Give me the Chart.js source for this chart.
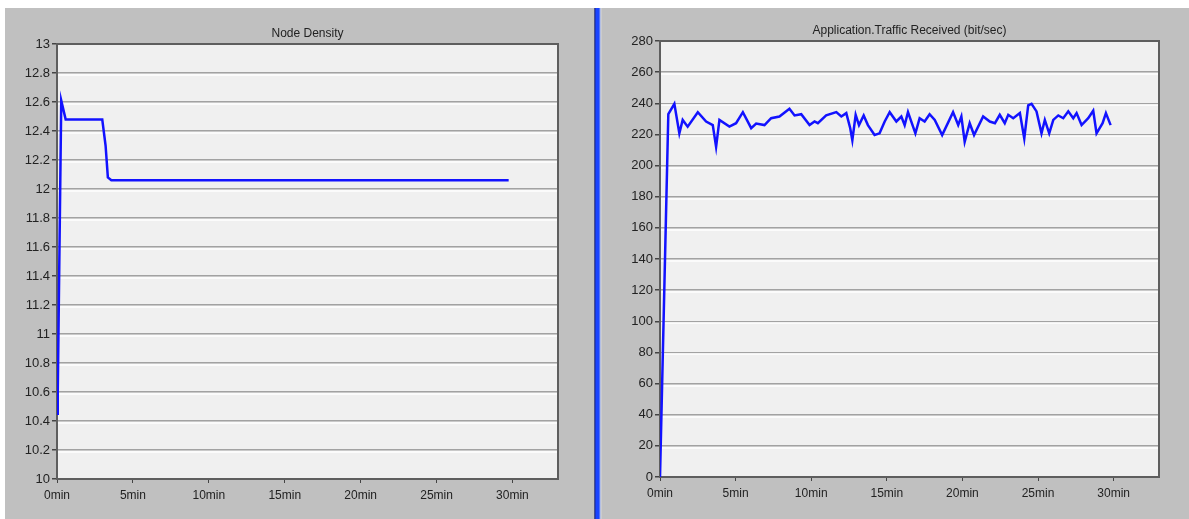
<!DOCTYPE html>
<html lang="en">
<head>
    <meta charset="UTF-8">
    <title>Node Density / Application Traffic Received</title>
    <script src="https://cdn.jsdelivr.net/npm/chart.js"></script>
    <style>
        body { margin: 0; background: #fff; width: 1189px; height: 519px; position: relative; overflow: hidden; }
        .panel { position: absolute; top: 8px; height: 511px; background: #c0c0c0; }
        #leftPanel { left: 5px; width: 589px; }
        #rightPanel { left: 602px; width: 587px; }
        #sep { position: absolute; top: 8px; left: 594px; width: 8px; height: 511px;
               background: linear-gradient(to right, #7a7a8a 0, #1c2a8c 1px, #1a44ff 2px, #1a44ff 5px, #8fa6f0 6px, #d8d8d8 7px, #c0c0c0 8px); }
        canvas { position: absolute; top: 0; left: 0; }
    </style>
</head>
<body>
    <div id="leftPanel" class="panel"><canvas id="densityChart" width="589" height="511"></canvas></div>
    <div id="sep"></div>
    <div id="rightPanel" class="panel"><canvas id="trafficChart" width="587" height="511"></canvas></div>

    <script>
        // Node Density (left)
        const densityTimes  = [0, 0.05, 0.28, 0.57, 2.98, 3.2, 3.35, 3.58, 29.75];
        const densityValues = [10.45, 10.6, 12.61, 12.48, 12.48, 12.3, 12.08, 12.06, 12.06];

        // Application.Traffic Received (right), bit/sec
        const trafficTimes = [
            0, 0.55, 0.95, 1.28, 1.5, 1.83, 2.5, 3.05, 3.49, 3.71, 3.93, 4.59, 5.03, 5.48, 6.03, 6.36, 6.91, 7.35, 7.9,
            8.56, 8.9, 9.34, 9.89, 10.22, 10.44, 10.99, 11.66, 11.99, 12.32, 12.58, 12.72, 12.94, 13.16, 13.47, 13.75,
            14.19, 14.52, 14.86, 15.19, 15.63, 15.96, 16.18, 16.4, 16.89, 17.17, 17.5, 17.83, 18.17, 18.66, 19.38,
            19.72, 19.93, 20.15, 20.48, 20.77, 21.37, 21.81, 22.15, 22.47, 22.8, 23.03, 23.36, 23.8, 24.09, 24.35,
            24.57, 24.9, 25.23, 25.45, 25.74, 26.01, 26.34, 26.67, 27.0, 27.33, 27.55, 27.88, 28.32, 28.65, 28.87,
            29.27, 29.49, 29.8
        ];
        const trafficValues = [
            0, 233, 239.6, 220.7, 229.3, 225, 234.3, 228.3, 226, 212, 229.3, 225, 227.2, 234.3, 224, 227, 226, 230.4, 231.5,
            236.5, 232.2, 233, 226, 228.3, 227.2, 232.2, 234.3, 231.5, 233.7, 224, 216.3, 232.6, 226, 232.2, 226,
            219.6, 220.7, 228.3, 234.3, 228.3, 231.5, 226, 234.3, 220.7, 230.4, 228.3, 233, 229.3, 219.6, 234.3,
            226, 231.5, 215.2, 227.2, 219.6, 231.5, 228.3, 227.2, 232.6, 227.2, 232.6, 230.4, 233.7, 217.4, 238.7,
            239.6, 234.8, 220.7, 229.3, 220.7, 229.3, 232.2, 230.4, 234.8, 230.4, 233.7, 226, 230.4, 235.2, 220.7,
            227.2, 233.7, 226
        ];

        const xTickStep = 5;
        const xMax = 33;

        const FONT = "'Liberation Sans', Arial, sans-serif";

        // plot background, 3D grid lines, frame and title
        const framePlugin = {
            id: 'frame',
            beforeDraw(chart) {
                const { ctx, chartArea: a } = chart;
                ctx.save();
                ctx.fillStyle = '#f0f0f0';
                ctx.fillRect(a.left, a.top, a.right - a.left, a.bottom - a.top);
                ctx.restore();
            },
            beforeDatasetsDraw(chart) {
                const { ctx, chartArea: a } = chart;
                const y = chart.scales.y;
                ctx.save();
                ctx.strokeStyle = '#ffffff';
                ctx.lineWidth = 1.5;
                y.ticks.forEach((t, i) => {
                    const py = Math.round(y.getPixelForTick(i)) + 2;
                    if (py > a.top + 2 && py < a.bottom - 2) {
                        ctx.beginPath();
                        ctx.moveTo(a.left + 1, py);
                        ctx.lineTo(a.right - 1, py);
                        ctx.stroke();
                    }
                });
                ctx.strokeStyle = '#5e5e5e';
                ctx.lineWidth = 2;
                ctx.strokeRect(a.left, a.top, a.right - a.left, a.bottom - a.top);
                ctx.fillStyle = '#222';
                ctx.font = '12px ' + FONT;
                ctx.textAlign = 'center';
                ctx.textBaseline = 'bottom';
                ctx.fillText(chart.options.plugins.frame.text, (a.left + a.right) / 2, a.top - 4);
                ctx.restore();
            }
        };

        function makeChart(id, times, values, yMin, yMax, yStep, fmt, sizes) {
            const points = times.map((t, i) => ({ x: t, y: values[i] }));
            return new Chart(document.getElementById(id).getContext('2d'), {
                type: 'line',
                data: {
                    datasets: [{
                        data: points,
                        borderColor: '#1212ff',
                        borderWidth: 2.5,
                        pointRadius: 0,
                        tension: 0,
                        fill: false
                    }]
                },
                options: {
                    responsive: false,
                    animation: false,
                    devicePixelRatio: 1,
                    layout: { padding: { top: sizes.top, right: sizes.right, left: 0, bottom: 0 } },
                    plugins: {
                        legend: { display: false },
                        tooltip: { enabled: false },
                        frame: { text: sizes.title }
                    },
                    scales: {
                        x: {
                            type: 'linear',
                            min: 0,
                            max: xMax,
                            afterBuildTicks: s => { s.ticks = s.ticks.filter(t => t.value % xTickStep === 0); },
                            afterFit: s => { s.height = sizes.xh; },
                            ticks: {
                                stepSize: xTickStep,
                                color: '#222',
                                font: { family: FONT, size: 12 },
                                padding: 5,
                                maxRotation: 0,
                                callback: v => v + 'min'
                            },
                            grid: { drawOnChartArea: false, drawTicks: true, tickLength: 4, tickColor: '#444' },
                            border: { display: true, color: '#5e5e5e', width: 2 }
                        },
                        y: {
                            min: yMin,
                            max: yMax,
                            afterFit: s => { s.width = sizes.yw; },
                            ticks: {
                                stepSize: yStep,
                                color: '#222',
                                font: { family: FONT, size: 13 },
                                padding: 2,
                                callback: fmt
                            },
                            grid: { color: '#a2a2a2', lineWidth: 1.5, tickLength: 5, tickColor: '#444' },
                            border: { display: true, color: '#5e5e5e', width: 2 }
                        }
                    }
                },
                plugins: [framePlugin]
            });
        }

        makeChart('densityChart', densityTimes, densityValues, 10, 13, 0.2,
            v => String(parseFloat(v.toFixed(1))),
            { top: 36, right: 36, yw: 52, xh: 40, title: 'Node Density' });

        makeChart('trafficChart', trafficTimes, trafficValues, 0, 280, 20,
            v => String(v),
            { top: 33, right: 30, yw: 58, xh: 42, title: 'Application.Traffic Received (bit/sec)' });
    </script>
</body>
</html>
